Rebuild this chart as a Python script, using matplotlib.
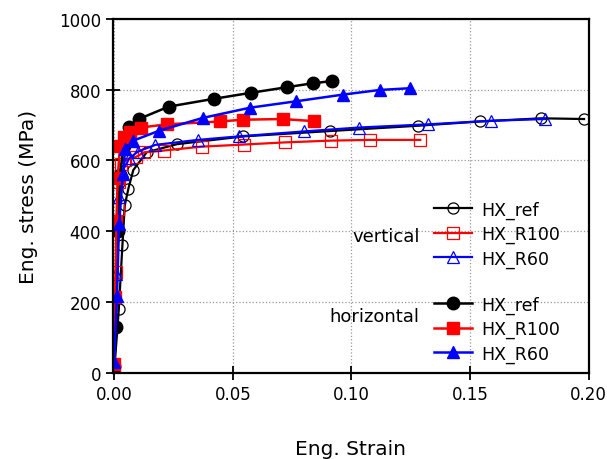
import matplotlib.pyplot as plt

# === data ===
# vertical specimens (open markers)
v_ref_strain = [0, 0.002, 0.0035, 0.0045, 0.006, 0.0081, 0.0137, 0.0265, 0.0545, 0.0908, 0.128, 0.154, 0.180, 0.198]
v_ref_stress = [0, 181, 360, 473, 520, 573, 623, 646, 668, 683, 698, 710, 719, 717]

v_r100_strain = [0, 0.0008, 0.0015, 0.002, 0.003, 0.0045, 0.0092, 0.0127, 0.0209, 0.037, 0.0548, 0.072, 0.0912, 0.1077, 0.129]
v_r100_stress = [5, 284, 463, 540, 590, 600, 610, 623, 628, 639, 645, 651, 656, 658, 658]

v_r60_strain = [0, 0.001, 0.002, 0.0035, 0.0064, 0.01, 0.0174, 0.0352, 0.0526, 0.080, 0.1032, 0.1322, 0.1587, 0.1815]
v_r60_stress = [3, 280, 496, 570, 606, 625, 644, 658, 668, 682, 693, 702, 712, 717]

# horizontal specimens (filled markers)
h_ref_strain = [0, 0.0008, 0.0015, 0.0025, 0.004, 0.0064, 0.0104, 0.023, 0.042, 0.0576, 0.073, 0.0837, 0.0917]
h_ref_stress = [20, 130, 400, 560, 640, 694, 717, 752, 774, 791, 807, 818, 824]

h_r100_strain = [0, 0.0005, 0.001, 0.0015, 0.0025, 0.004, 0.0068, 0.0113, 0.0221, 0.0445, 0.0542, 0.071, 0.0842]
h_r100_stress = [25, 215, 430, 550, 640, 665, 680, 693, 702, 710, 715, 717, 711]

h_r60_strain = [0, 0.0012, 0.0021, 0.0037, 0.0047, 0.0081, 0.019, 0.0373, 0.0573, 0.0766, 0.0965, 0.1119, 0.1248]
h_r60_stress = [30, 218, 420, 562, 633, 656, 684, 720, 749, 767, 786, 799, 804]

labels = ['HX_ref', 'HX_R100', 'HX_R60']
colors = ['black', 'red', 'blue']
markers = ['o', 's', '^']

fig = plt.figure(figsize=(6.07, 4.6), dpi=100)
ax = fig.add_axes([0.186, 0.187, 0.784, 0.770])

v_data = [(v_ref_strain, v_ref_stress), (v_r100_strain, v_r100_stress), (v_r60_strain, v_r60_stress)]
h_data = [(h_ref_strain, h_ref_stress), (h_r100_strain, h_r100_stress), (h_r60_strain, h_r60_stress)]

v_lines = []
for (x, y), c, m, lab in zip(v_data, colors, markers, labels):
    ln, = ax.plot(x, y, color=c, marker=m, markersize=8, markerfacecolor='none',
                  markeredgecolor=c, markeredgewidth=0.9, linewidth=1.6, label=lab)
    v_lines.append(ln)

h_lines = []
for (x, y), c, m, lab in zip(h_data, colors, markers, labels):
    ln, = ax.plot(x, y, color=c, marker=m, markersize=9, markerfacecolor=c,
                  markeredgecolor=c, linewidth=1.8, label=lab)
    h_lines.append(ln)

ax.set_xlim(-0.0005, 0.20)
ax.set_ylim(0, 1000)
ax.set_xticks([0, 0.05, 0.10, 0.15, 0.20])
ax.set_xticklabels(['0.00', '0.05', '0.10', '0.15', '0.20'])
ax.set_yticks([0, 200, 400, 600, 800, 1000])
ax.grid(True, linestyle=':', color='#999999', linewidth=0.9)
ax.tick_params(direction='inout', length=10, width=1.3, labelsize=12)
for s in ax.spines.values():
    s.set_linewidth(1.6)

ax.set_xlabel('Eng. Strain', fontsize=14.5, labelpad=26)
ax.set_ylabel('Eng. stress (MPa)', fontsize=14.5, labelpad=15)

leg_kw = dict(frameon=False, fontsize=12.5, handlelength=2.2, handletextpad=0.5,
              labelspacing=0.36, borderaxespad=0, loc='upper left')
leg1 = ax.legend(handles=v_lines, bbox_to_anchor=(0.6605, 0.507), **leg_kw)
ax.add_artist(leg1)
ax.legend(handles=h_lines, bbox_to_anchor=(0.6605, 0.239), **leg_kw)

ax.text(0.645, 0.387, 'vertical', transform=ax.transAxes, fontsize=13, ha='right', va='center')
ax.text(0.645, 0.161, 'horizontal', transform=ax.transAxes, fontsize=13, ha='right', va='center')

fig.savefig('out.png', dpi=100)
